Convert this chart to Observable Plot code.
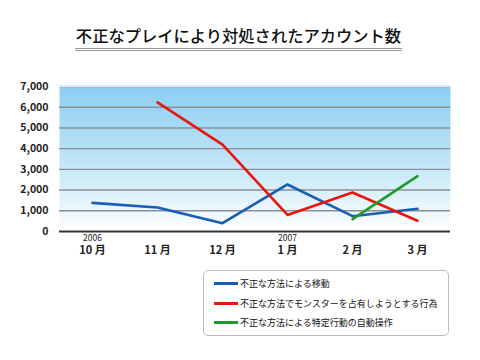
<!DOCTYPE html>
<html><head><meta charset="utf-8">
<script src="https://cdn.jsdelivr.net/npm/d3@7"></script>
<script src="https://cdn.jsdelivr.net/npm/@observablehq/plot@0.6"></script>
<style>
body{margin:0;background:#fff;width:480px;height:360px;position:relative;overflow:hidden;font-family:"Noto Sans CJK JP","Noto Sans",sans-serif;}
#title{position:absolute;left:75px;top:24px;width:327px;text-align:center;font-size:16.3px;font-weight:500;color:#111;letter-spacing:0px;line-height:22px;padding-bottom:2px;border-bottom:3px double #9a9a9a;white-space:nowrap;}
#chart{position:absolute;left:0;top:70px;}
#legend{position:absolute;left:203px;top:270px;width:246px;height:66px;border:1px solid #bbb;border-radius:5px;box-sizing:border-box;}
.item{position:absolute;left:10px;font-size:9px;color:#111;display:flex;align-items:center;white-space:nowrap;}
.sw{width:24px;height:3px;margin-right:2px;}
</style></head>
<body>
<div id="title">不正なプレイにより対処されたアカウント数</div>
<div id="chart"></div>
<div id="legend"></div>
<script>
const months = ["10 月","11 月","12 月","1 月","2 月","3 月"];
const years = ["2006","","","2007","",""];
const seriesNames = ["不正な方法による移動","不正な方法でモンスターを占有しようとする行為","不正な方法による特定行動の自動操作"];
const seriesColors = ["#1a5db5","#e8160c","#1f9a2a"];
const blue  = [1380, 1160, 400, 2270, 740, 1100];
const red   = [null, 6230, 4190, 800, 1880, 520];
const green = [null, null, null, null, 600, 2670];
const yTicks = [0,1000,2000,3000,4000,5000,6000,7000];

const rows = [];
[blue, red, green].forEach((arr, si) => arr.forEach((v, i) => { if (v != null) rows.push({s: seriesNames[si], m: months[i], v}); }));
const yearRows = months.map((m, i) => ({m, y: years[i]})).filter(d => d.y);

const plot = Plot.plot({
  width: 480, height: 200,
  marginTop: 16, marginBottom: 39, marginLeft: 59, marginRight: 30,
  x: {type: "point", domain: months, padding: 0.47, label: null},
  y: {domain: [0, 7000], label: null},
  color: {domain: seriesNames, range: seriesColors},
  style: {fontFamily: "'Noto Sans CJK JP','Noto Sans',sans-serif", background: "transparent"},
  marks: [
    Plot.frame({fill: "url(#bg)", stroke: null}),
    Plot.gridY(yTicks.filter(t => t > 0), {stroke: "#8a9098", strokeOpacity: 1, strokeWidth: 1.4}),
    Plot.ruleY([7000], {stroke: "#dfeef8", strokeWidth: 1}),
    Plot.lineY(rows, {x: "m", y: "v", z: "s", stroke: "s", strokeWidth: 2.6, curve: "linear",
      style: {filter: "drop-shadow(3px 4px 2px rgba(0,0,0,0.5))"}}),
    Plot.ruleY([0], {stroke: "#333", strokeWidth: 2}),
    Plot.axisY({ticks: yTicks, tickFormat: d => d3.format(",")(d), tickSize: 0, tickPadding: 11, fontSize: 10.5, fontWeight: "bold", fill: "#222", label: null}),
    Plot.axisX({tickSize: 0, tickPadding: 15, fontSize: 11, fontWeight: "bold", fill: "#222", label: null}),
    Plot.text(yearRows, {x: "m", frameAnchor: "bottom", text: "y", dy: 9, fontSize: 8.5, fill: "#222"})
  ]
});
const svg = d3.select(plot);
const defs = svg.insert("defs", ":first-child");
const g = defs.append("linearGradient").attr("id", "bg").attr("x1", 0).attr("y1", 0).attr("x2", 0).attr("y2", 1);
g.append("stop").attr("offset", "0%").attr("stop-color", "#8ccff2");
g.append("stop").attr("offset", "45%").attr("stop-color", "#b8e1f6");
g.append("stop").attr("offset", "100%").attr("stop-color", "#ffffff");
document.getElementById("chart").appendChild(plot);

const legend = document.getElementById("legend");
seriesNames.forEach((n, i) => {
  const d = document.createElement("div");
  d.className = "item";
  d.style.top = (6 + i * 19.5) + "px";
  d.innerHTML = `<span class="sw" style="background:${seriesColors[i]}"></span><span>${n}</span>`;
  legend.appendChild(d);
});
</script>
</body></html>
